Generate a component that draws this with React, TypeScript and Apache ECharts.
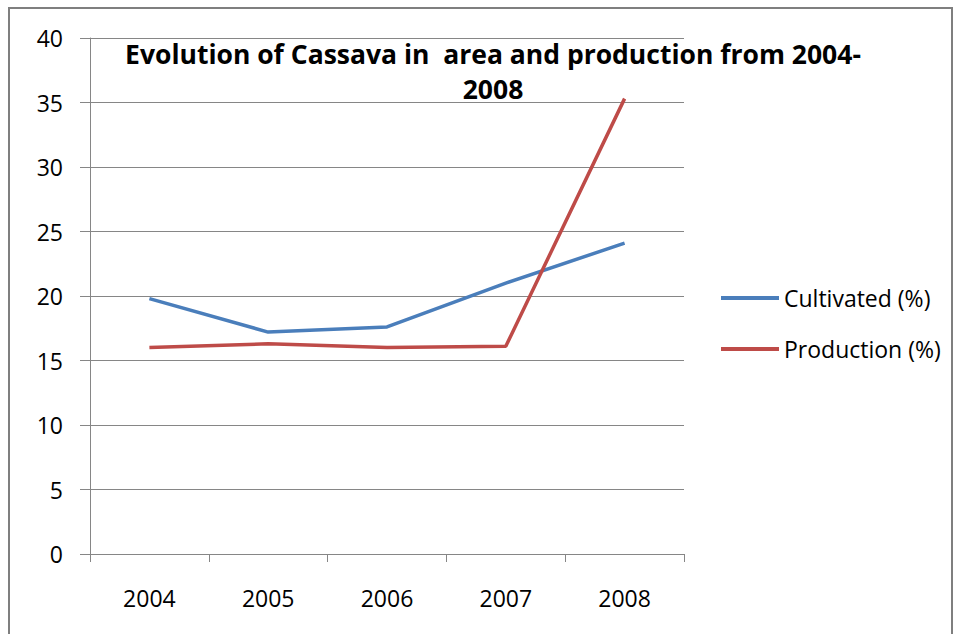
import React, { useEffect, useRef } from "react";
import * as echarts from "echarts";

const years = ["2004", "2005", "2006", "2007", "2008"];
const cultivated = [19.8, 17.2, 17.6, 21.0, 24.1];
const production = [16.0, 16.3, 16.0, 16.1, 35.3];
const titleText = "Evolution of Cassava in  area and production from 2004-\n2008";
const FONT = "Open Sans";

export default function App() {
  const ref = useRef<HTMLDivElement>(null);
  useEffect(() => {
    if (!ref.current) return;
    const chart = echarts.init(ref.current, undefined, { renderer: "svg" });
    chart.setOption({
      animation: false,
      backgroundColor: "#ffffff",
      title: {
        text: titleText,
        left: 488,
        top: 31,
        textAlign: "center",
        textStyle: {
          fontFamily: FONT,
          fontSize: 26.5,
          fontWeight: "bold",
          color: "#000000",
          lineHeight: 35,
        },
      },
      legend: {
        orient: "vertical",
        left: 716,
        top: 281,
        itemWidth: 58,
        itemHeight: 4,
        itemGap: 27,
        icon: "rect",
        textStyle: { fontFamily: FONT, fontSize: 23, color: "#000000", lineHeight: 24 },
        data: ["Cultivated (%)", "Production (%)"],
      },
      grid: { left: 90, top: 38, width: 594, height: 516 },
      xAxis: {
        type: "category",
        data: years,
        boundaryGap: true,
        axisLine: { lineStyle: { color: "#868686", width: 1 } },
        axisTick: { show: true, length: 8, lineStyle: { color: "#868686" } },
        axisLabel: { fontFamily: FONT, fontSize: 23, color: "#000000", margin: 32 },
        splitLine: { show: false },
      },
      yAxis: {
        type: "value",
        min: 0,
        max: 40,
        interval: 5,
        axisLine: { show: true, lineStyle: { color: "#868686", width: 1 } },
        axisTick: { show: true, length: 10, lineStyle: { color: "#868686" } },
        axisLabel: { fontFamily: FONT, fontSize: 23, color: "#000000", margin: 27 },
        splitLine: { show: true, lineStyle: { color: "#868686", width: 1 } },
      },
      series: [
        {
          name: "Cultivated (%)",
          type: "line",
          data: cultivated,
          showSymbol: false,
          symbol: "none",
          color: "#4a7ebb",
          lineStyle: { color: "#4a7ebb", width: 3.5 },
        },
        {
          name: "Production (%)",
          type: "line",
          data: production,
          showSymbol: false,
          symbol: "none",
          color: "#be4b48",
          lineStyle: { color: "#be4b48", width: 3.5 },
        },
      ],
      graphic: [
        {
          type: "rect",
          shape: { x: 9, y: 8, width: 943, height: 700 },
          style: { fill: "none", stroke: "#7f7f7f", lineWidth: 2 },
          silent: true,
        },
      ],
    });
    return () => chart.dispose();
  }, []);
  return (
    <div
      ref={ref}
      style={{ position: "absolute", left: 0, top: 0, width: 957, height: 634 }}
    />
  );
}
